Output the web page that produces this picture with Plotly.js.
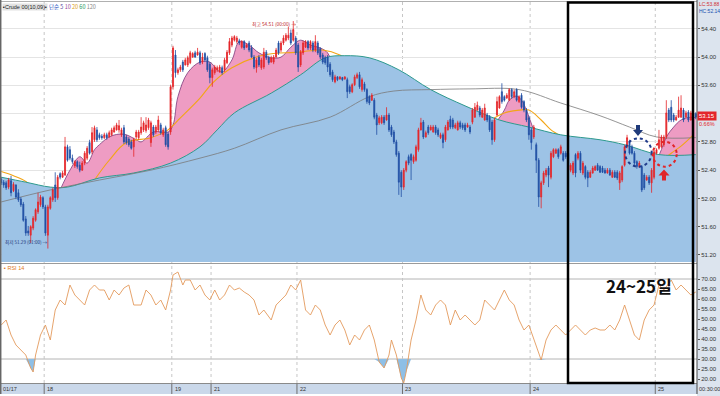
<!DOCTYPE html>
<html><head><meta charset="utf-8">
<script src="https://cdn.plot.ly/plotly-3.0.1.min.js"></script>
<style>html,body{margin:0;padding:0;background:#fff}#chart{width:720px;height:396px}</style>
</head><body><div id="chart"></div>
<script>
// ---- 30-minute candles ----
const openP = [
52.27,52.23,52.22,52.16,52.25,52.11,52.19,52.08,51.99,51.92,
51.71,51.54,51.48,51.58,51.69,51.81,51.91,52.01,51.88,51.48,
51.86,51.98,52.19,52.01,52.35,52.30,52.33,52.73,52.69,52.57,
52.46,52.52,52.47,52.40,52.50,52.57,52.79,52.66,52.83,52.97,
52.90,52.88,52.86,52.90,52.87,52.90,52.94,52.97,52.97,52.90,
53.00,52.87,52.84,52.80,52.73,52.87,52.86,52.93,52.97,52.96,
53.00,52.79,53.01,52.94,52.97,53.04,52.90,53.00,52.91,52.94,
53.58,54.03,53.78,53.82,53.93,53.89,53.89,53.92,54.00,54.06,
54.03,54.06,53.93,54.05,53.99,53.90,53.71,53.78,53.82,53.79,
53.85,53.82,53.92,54.06,54.17,54.24,54.22,54.23,54.14,54.22,
54.14,54.20,54.13,54.00,53.85,54.00,53.85,53.86,54.07,53.99,
53.93,53.93,54.00,54.20,54.10,54.20,54.24,54.27,54.34,54.24,
54.27,54.17,53.89,54.06,54.14,54.22,54.13,54.20,54.10,54.20,
54.12,54.03,53.99,54.00,53.90,53.79,53.65,53.72,53.69,53.71,
53.69,53.68,53.58,53.51,53.61,53.71,53.75,53.54,53.62,53.54,
53.44,53.39,53.39,53.18,53.07,53.07,53.15,53.11,53.18,53.01,
52.94,52.80,52.64,52.37,52.16,52.40,52.59,52.62,52.52,52.54,
52.69,52.97,53.08,52.87,53.01,52.97,52.94,53.01,52.97,52.86,
52.90,52.83,52.97,53.12,53.11,53.00,52.97,53.07,53.04,53.04,
53.01,53.01,53.08,53.15,53.25,53.28,53.15,53.11,53.18,53.15,
53.08,52.83,53.18,53.28,53.51,53.44,53.42,53.39,53.54,53.44,
53.54,53.37,53.46,53.37,53.25,53.14,52.97,52.87,52.76,52.54,
52.02,52.22,52.33,52.43,52.30,52.59,52.64,52.69,52.64,52.64,
52.64,52.64,52.40,52.36,52.62,52.57,52.64,52.36,52.45,52.37,
52.30,52.36,52.40,52.47,52.45,52.43,52.40,52.36,52.40,52.30,
52.37,52.37,52.22,52.26,52.47,52.73,52.80,52.73,52.64,52.52,
52.45,52.45,52.33,52.26,52.30,52.22,52.30,52.64,52.71,52.73,
52.76,52.87,53.25,53.29,53.18,53.11,53.15,53.15,53.25,53.15,
53.22,53.11,53.21,53.20];
const highP = [
52.30,52.26,52.25,52.29,52.32,52.23,52.20,52.13,52.02,51.95,
51.75,51.61,51.62,51.75,51.86,52.08,52.05,52.03,51.91,51.91,
52.03,52.15,52.37,52.33,52.37,52.39,52.87,52.76,52.74,52.62,
52.54,52.54,52.52,52.53,52.67,52.74,52.83,53.01,53.03,53.01,
52.93,52.91,52.93,52.93,52.96,53.00,53.03,53.07,53.11,53.00,
53.04,52.90,52.87,52.83,52.86,52.97,52.97,53.15,53.10,53.15,
53.14,53.10,53.04,53.04,53.17,53.07,53.00,53.03,52.94,53.61,
54.16,54.10,53.85,53.89,53.96,53.99,54.02,54.09,54.07,54.09,
54.13,54.09,54.06,54.07,54.02,53.93,53.85,53.89,53.88,53.89,
53.88,53.99,54.10,54.27,54.30,54.31,54.30,54.26,54.24,54.24,
54.20,54.23,54.17,54.03,53.99,54.03,53.99,54.13,54.10,54.02,
54.02,54.03,54.13,54.23,54.23,54.31,54.34,54.43,54.39,54.51,
54.30,54.20,54.10,54.23,54.24,54.24,54.24,54.23,54.31,54.23,
54.14,54.06,54.02,54.03,53.93,53.82,53.75,53.73,53.73,53.72,
53.73,53.71,53.61,53.63,53.75,53.78,53.79,53.71,53.65,53.56,
53.46,53.49,53.42,53.21,53.17,53.18,53.18,53.29,53.21,53.04,
52.97,52.83,52.67,52.40,52.43,52.54,52.62,52.64,52.62,52.76,
53.00,53.14,53.11,52.96,53.04,53.04,53.04,53.04,53.00,52.93,
52.93,53.04,53.11,53.17,53.14,53.07,53.10,53.10,53.07,53.07,
53.07,53.04,53.28,53.35,53.37,53.31,53.28,53.34,53.21,53.18,
53.11,53.14,53.44,53.46,53.63,53.46,53.49,53.56,53.56,53.54,
53.56,53.46,53.49,53.39,53.28,53.17,53.00,53.04,52.79,52.57,
52.25,52.39,52.43,52.46,52.67,52.71,52.71,52.71,52.76,52.67,
52.67,52.67,52.50,52.53,52.64,52.67,52.67,52.53,52.47,52.40,
52.40,52.46,52.47,52.50,52.47,52.46,52.43,52.43,52.43,52.40,
52.40,52.40,52.39,52.47,52.76,52.90,52.83,52.76,52.67,52.54,
52.53,52.47,52.36,52.33,52.33,52.43,52.69,52.71,52.97,52.90,
52.90,53.39,53.28,53.39,53.21,53.18,53.44,53.46,53.28,53.24,
53.25,53.24,53.24,53.22];
const lowP = [
52.19,52.15,52.12,52.13,52.03,52.09,51.99,51.95,51.88,51.67,
51.47,51.47,51.37,51.55,51.67,51.78,51.88,51.85,51.47,51.29,
51.84,51.95,51.95,51.98,52.27,52.29,52.32,52.52,52.54,52.49,
52.43,52.42,52.37,52.39,52.47,52.54,52.62,52.63,52.80,52.80,
52.83,52.83,52.84,52.83,52.86,52.88,52.93,52.96,52.93,52.87,
52.77,52.76,52.73,52.69,52.59,52.84,52.83,52.90,52.94,52.93,
52.97,52.73,52.87,52.91,52.94,52.90,52.87,52.73,52.69,52.90,
53.54,53.71,53.75,53.79,53.79,53.88,53.86,53.90,53.99,53.99,
54.02,53.89,53.90,53.93,53.79,53.63,53.58,53.75,53.79,53.78,
53.75,53.79,53.90,54.03,54.14,54.22,54.19,54.17,54.12,54.10,
54.13,54.07,53.99,53.83,53.78,53.86,53.82,53.83,53.96,53.89,
53.92,53.90,53.99,54.03,54.07,54.17,54.22,54.24,54.17,54.22,
54.03,53.79,53.86,54.03,54.13,54.10,54.10,54.07,54.07,54.03,
53.97,53.90,53.89,53.79,53.72,53.65,53.63,53.66,53.68,53.66,
53.68,53.42,53.48,53.49,53.59,53.69,53.55,53.51,53.51,53.34,
53.32,53.38,53.12,52.90,53.04,53.05,53.04,53.10,52.94,52.87,
52.77,52.59,52.05,52.02,52.12,52.37,52.47,52.26,52.49,52.52,
52.66,52.96,52.84,52.86,52.90,52.96,52.93,52.90,52.87,52.84,
52.71,52.80,52.96,52.98,52.98,52.98,52.96,52.98,52.97,52.94,
53.00,52.91,53.05,53.14,53.24,53.15,53.14,53.10,53.08,52.94,
52.76,52.80,53.17,53.27,53.34,53.37,53.41,53.38,53.41,53.42,
53.37,53.35,53.27,53.22,53.08,52.83,52.69,52.84,52.36,51.88,
51.86,52.19,52.30,52.16,52.27,52.57,52.63,52.56,52.62,52.52,
52.56,52.42,52.37,52.33,52.30,52.54,52.36,52.33,52.27,52.16,
52.29,52.35,52.39,52.39,52.36,52.36,52.35,52.35,52.32,52.29,
52.29,52.26,52.12,52.23,52.45,52.71,52.62,52.62,52.47,52.42,
52.43,52.09,52.12,52.25,52.19,52.08,52.27,52.62,52.69,52.71,
52.73,52.84,53.08,53.08,53.08,53.10,53.14,53.14,53.08,53.14,
53.08,53.10,53.12,53.12];
const closeP = [
52.22,52.19,52.15,52.26,52.08,52.20,52.02,51.98,51.91,51.69,
51.51,51.51,51.60,51.72,51.84,51.95,52.02,51.88,51.51,51.88,
52.01,52.12,52.01,52.30,52.30,52.36,52.73,52.54,52.57,52.52,
52.52,52.45,52.40,52.50,52.64,52.71,52.64,52.93,53.00,52.83,
52.86,52.86,52.90,52.86,52.93,52.97,53.00,53.04,53.03,52.97,
52.80,52.79,52.76,52.71,52.83,52.94,52.94,53.01,53.07,53.04,
53.11,53.07,52.90,53.01,53.11,52.93,52.97,52.76,52.73,53.58,
54.13,53.78,53.82,53.86,53.82,53.96,53.99,54.06,54.05,54.00,
54.07,53.92,54.00,53.96,53.82,53.71,53.82,53.86,53.85,53.86,
53.78,53.96,54.07,54.22,54.27,54.29,54.27,54.20,54.22,54.13,
54.17,54.10,54.00,53.86,53.96,53.89,53.96,54.07,53.99,53.92,
53.99,54.00,54.10,54.06,54.20,54.27,54.31,54.31,54.20,54.39,
54.06,53.86,54.07,54.20,54.22,54.13,54.22,54.10,54.22,54.06,
54.00,53.93,53.92,53.86,53.75,53.68,53.72,53.68,53.72,53.68,
53.72,53.51,53.51,53.61,53.72,53.75,53.58,53.68,53.54,53.37,
53.35,53.46,53.15,53.04,53.14,53.15,53.07,53.18,52.97,52.90,
52.80,52.62,52.23,52.16,52.40,52.52,52.50,52.54,52.59,52.73,
52.97,53.07,52.87,52.93,52.93,53.01,53.01,52.93,52.90,52.90,
52.79,53.01,53.08,53.01,53.01,53.04,53.07,53.01,53.00,52.97,
53.04,52.94,53.25,53.29,53.32,53.18,53.25,53.28,53.11,52.97,
52.83,53.11,53.37,53.44,53.37,53.39,53.46,53.54,53.44,53.51,
53.39,53.44,53.29,53.25,53.11,52.90,52.79,53.01,52.54,52.02,
52.22,52.36,52.40,52.33,52.64,52.69,52.69,52.59,52.73,52.54,
52.59,52.45,52.47,52.50,52.36,52.64,52.40,52.50,52.30,52.29,
52.37,52.43,52.45,52.40,52.37,52.37,52.36,52.40,52.33,52.37,
52.30,52.29,52.36,52.45,52.73,52.86,52.64,52.64,52.50,52.45,
52.50,52.12,52.15,52.30,52.22,52.40,52.66,52.69,52.83,52.87,
52.87,53.21,53.11,53.11,53.11,53.15,53.25,53.28,53.11,53.21,
53.11,53.21,53.15,53.15];

// ---- moving averages (sparse points; null = hidden) ----
const ma5X = [24,28,32,35,38,40,44,48,51,55,57,62,68,70,72,76,81,85,88,90,94,97,101,105,110,114,118,122,126,130,133,136,140,null,198,202,205,207,210,212,214,217,220,null,264,266,269,271,274,277,281,283];
const ma5Y = [52.12,52.40,52.59,52.50,52.69,52.76,52.87,52.91,52.90,52.83,52.80,52.94,52.94,53.04,53.44,53.78,53.93,53.93,53.82,53.79,53.96,54.22,54.17,54.06,53.99,54.00,54.14,54.24,54.17,54.13,54.06,53.82,53.70,null,53.00,53.10,53.25,53.39,53.45,53.39,53.25,52.97,52.76,null,52.40,52.47,52.69,52.87,53.01,53.11,53.15,53.14];
const ma20X = [0,5,10,14,null,36,38,44,51,61,68,73,81,86,94,107,121,131,138,142,146,null,195,201,205,211,215,220,224,227,231,null,266,273,277,282];
const ma20Y = [52.38,52.32,52.24,52.10,null,52.15,52.26,52.54,52.79,52.86,52.97,53.14,53.42,53.63,53.85,54.03,54.07,54.10,54.03,53.93,53.80,null,52.97,53.14,53.21,53.25,53.25,53.11,52.97,52.90,52.78,null,52.45,52.64,52.74,52.90];
const ma60X = [0,10,20,27,40,54,69,81,88,95,110,122,132,140,150,162,175,189,203,215,228,244,254,268,283];
const ma60Y = [52.30,52.23,52.16,52.16,52.29,52.36,52.50,52.73,52.97,53.21,53.49,53.75,53.99,54.02,53.99,53.82,53.54,53.31,53.11,53.01,52.90,52.83,52.76,52.62,52.62];
const ma120X = [0,20,40,61,81,95,114,134,150,160,175,191,211,228,244,256,267,283];
const ma120Y = [51.95,52.12,52.26,52.40,52.57,52.71,52.97,53.15,53.44,53.52,53.54,53.55,53.54,53.35,53.17,53.01,52.87,52.86];

// ---- RSI 14 ----
const rsiX = [0,2,4,6,8,10,12,13,14,16,18,20,22,24,26,28,30,32,34,36,38,40,42,44,46,48,50,52,54,57,59,61,63,65,67,69,70,72,74,75,77,79,81,83,85,87,89,91,93,95,97,99,101,103,105,107,110,112,114,116,118,120,122,124,126,128,130,132,134,136,138,140,142,144,146,148,150,152,154,156,158,159,161,163,164,165,167,169,171,173,175,177,179,181,183,185,187,189,191,193,195,197,199,201,203,205,207,209,211,213,215,218,220,222,224,226,228,230,232,234,236,238,240,242,244,246,248,250,252,254,256,258,260,262,264,266,268,270,273,275,277,279,281,283];
const rsiV = [47,49.5,42,37,34.5,32,25.5,23.5,32,42,47,39.5,54.5,59.5,57,67,62,59.5,57,64.5,67,64.5,64.5,59.5,64.5,62,65.5,67,57,57,64.5,62,57,59.5,54.5,64.5,72,73.5,67,69.5,69.5,64.5,67,62,59.5,64.5,59.5,62,67,64.5,65.5,63.5,62,59.5,52,54.5,49.5,57,59.5,62,67,64.5,69.5,54.5,52,57,54.5,47,42,47,49.5,44.5,37,42,39.5,44.5,47,39.5,28.5,25.5,32,39.5,32,20.5,18,23.5,39.5,49.5,62,54.5,52,57,59.5,57,47,54.5,49.5,52,49.5,47,49.5,59.5,57,54.5,59.5,64.5,59.5,57,49.5,44.5,47,37,29.5,39.5,44.5,47,44.5,42,44.5,47,44.5,42,44.5,45.5,44.5,44.5,47,44.5,49.5,57,49.5,42,39.5,49.5,54.5,57,67,64.5,69.5,64.5,67,64.5,62,63.5];

// ---- axis labels ----
const priceTicks = [51.2,51.6,52.0,52.4,52.8,53.2,53.6,54.0,54.4];
const priceTickText = ["51.20","51.60","52.00","52.40","52.80","","53.60","54.00","54.40"]; // 53.20 hidden under price box
const rsiTicks = [20,25,30,35,40,45,50,55,60,65,70];
const dayStart = [0,18,70,86,121,164,216,267];
const dayLabel = ["01/17","18","19","21","22","23","24","25"];
const lastPrice = "53.15", lastChange = "0.66%";
const highLabel = "최고 54.51 (00:00) →", lowLabel = "최저 51.29 (01:00) →";

const bars = closeP.map((_, i) => i);
const N = bars.length;
const xr = [-0.5, N - 0.5];

// pixel helpers for decorations (plot area: x 0..697, y 2..383)
const PW = 697, PH = 381, BOT = 383;
const px = x => x / PW;
const py = y => (BOT - y) / PH;
const path = pts => 'M ' + pts.map(p => px(p[0]).toFixed(5) + ',' + py(p[1]).toFixed(5)).join(' L ') + ' Z';

const KR = 'Noto Sans CJK KR';
const SM = 'Liberation Sans';

const traces = [
  {x: ma5X, y: ma5Y, type:'scatter', mode:'lines', line:{color:'#7b3a7c', width:0.8, shape:'spline'}, fill:'tozeroy', fillcolor:'#EE9CC3', connectgaps:false, xaxis:'x', yaxis:'y', hoverinfo:'skip'},
  {x: ma20X, y: ma20Y, type:'scatter', mode:'lines', line:{color:'#F2A516', width:1.1, shape:'spline'}, connectgaps:false, xaxis:'x', yaxis:'y', hoverinfo:'skip'},
  {x: ma60X, y: ma60Y, type:'scatter', mode:'lines', line:{color:'#2E9A8E', width:1, shape:'spline'}, fill:'tozeroy', fillcolor:'#9DC3E6', xaxis:'x', yaxis:'y', hoverinfo:'skip'},
  {x: ma120X, y: ma120Y, type:'scatter', mode:'lines', line:{color:'#7a7a7a', width:0.8, shape:'spline'}, xaxis:'x', yaxis:'y', hoverinfo:'skip'},
  {x: bars, open: openP, high: highP, low: lowP, close: closeP, type:'candlestick', xaxis:'x', yaxis:'y3',
   whiskerwidth:0,
   increasing:{line:{color:'#E5262A', width:0.8}, fillcolor:'#E5262A'},
   decreasing:{line:{color:'#1F4EA3', width:0.8}, fillcolor:'#1F4EA3'}, hoverinfo:'skip'},
  // RSI oversold fill (below 30)
  {x: xr, y:[30,30], type:'scatter', mode:'lines', line:{width:0, color:'rgba(0,0,0,0)'}, xaxis:'x2', yaxis:'y2', hoverinfo:'skip'},
  {x: rsiX, y: rsiV.map(v => Math.min(v, 30)), type:'scatter', mode:'lines', line:{width:0, color:'rgba(0,0,0,0)'}, fill:'tonexty', fillcolor:'#8EBFE6', xaxis:'x2', yaxis:'y2', hoverinfo:'skip'},
  {x: rsiX, y: rsiV, type:'scatter', mode:'lines', line:{color:'#E39A5C', width:0.9}, xaxis:'x2', yaxis:'y2', hoverinfo:'skip'}
];

const shapes = [
  {type:'rect', xref:'paper', yref:'paper', x0:1, x1:720/PW, y0:py(396), y1:py(0), fillcolor:'#DCE4EE', line:{width:0}, layer:'below'},
  {type:'rect', xref:'paper', yref:'paper', x0:0, x1:1, y0:py(394), y1:py(383.5), fillcolor:'#CAD8EA', line:{width:0}, layer:'below'},
  {type:'line', xref:'paper', yref:'paper', x0:0, x1:1, y0:py(383.5), y1:py(383.5), line:{color:'#8a8a8a', width:1}},
  {type:'line', xref:'paper', yref:'paper', x0:0, x1:1, y0:py(263.5), y1:py(263.5), line:{color:'#9a9a9a', width:1}},
  {type:'line', xref:'paper', yref:'paper', x0:0, x1:1, y0:py(1.5), y1:py(1.5), line:{color:'#b0b0b0', width:1}},
  {type:'line', xref:'paper', yref:'paper', x0:px(0.7), x1:px(0.7), y0:py(394), y1:py(0), line:{color:'#666', width:1.5}},
  {type:'line', xref:'paper', yref:'paper', x0:1, x1:1, y0:py(394), y1:py(0), line:{color:'#444', width:1}},
  {type:'line', xref:'paper', yref:'y2', x0:0, x1:1, y0:30, y1:30, line:{color:'#b4b4b4', width:1}, layer:'below'},
  {type:'line', xref:'paper', yref:'y2', x0:0, x1:1, y0:70, y1:70, line:{color:'#b4b4b4', width:1}, layer:'below'}
];
dayStart.forEach((s, k) => {
  if (k > 0) {
    shapes.push({type:'line', xref:'x', yref:'paper', x0:s-0.5, x1:s-0.5, y0:0, y1:1, line:{color:'#c6c6c6', width:1, dash:'dot'}, layer:'below'});
  }
  shapes.push({type:'line', xref:'x', yref:'paper', x0:s-0.5, x1:s-0.5, y0:py(394), y1:py(383.5), line:{color:'#6f6f6f', width:1}});
});
// 24~25 box, circles, arrows
shapes.push({type:'rect', xref:'paper', yref:'paper', x0:px(568), x1:px(693), y0:py(383), y1:py(2.5), line:{color:'#000', width:2.5}, fillcolor:'rgba(0,0,0,0)', layer:'above'});
shapes.push({type:'circle', xref:'paper', yref:'paper', x0:px(625), x1:px(651.7), y0:py(166.7), y1:py(138.3), line:{color:'#1F3A8A', width:2, dash:'dot'}});
shapes.push({type:'circle', xref:'paper', yref:'paper', x0:px(652.7), x1:px(676.7), y0:py(166.7), y1:py(141.7), line:{color:'#E0262A', width:2, dash:'dot'}});
shapes.push({type:'path', xref:'paper', yref:'paper', path: path([[636,125],[640,125],[640,130],[643,130],[638,136],[633,130],[636,130]]), fillcolor:'#1F3A7A', line:{width:0}});
shapes.push({type:'path', xref:'paper', yref:'paper', path: path([[664,169.5],[669.5,175.5],[666,175.5],[666,180.5],[662,180.5],[662,175.5],[658.5,175.5]]), fillcolor:'#E0262A', line:{width:0}});

const annotations = [
  {xref:'paper', yref:'paper', x:px(2), y:py(7), xanchor:'left', yanchor:'middle', showarrow:false,
   text:'▪Crude 00(10,09)▪', font:{family:SM, size:5.5, color:'#222'}, bgcolor:'#E2E2E2', borderpad:0},
  {xref:'paper', yref:'paper', x:px(47), y:py(7), xanchor:'left', yanchor:'middle', showarrow:false,
   text:'<span style="color:#2a55c0">단순</span> <span style="color:#5a3fa0">5</span> <span style="color:#9a4a9a">10</span> <span style="color:#E0A020">20</span> <span style="color:#2E9A5E">60</span> <span style="color:#888">120</span>',
   font:{family:KR, size:5.5, color:'#333'}},
  {xref:'paper', yref:'paper', x:px(2), y:py(267.5), xanchor:'left', yanchor:'middle', showarrow:false,
   text:'▪ RSI 14', font:{family:SM, size:5.5, color:'#E07A20'}},
  {xref:'paper', yref:'paper', x:px(298), y:py(24), xanchor:'right', yanchor:'middle', showarrow:false,
   text: highLabel, font:{family:KR, size:4.8, color:'#C0282A'}},
  {xref:'paper', yref:'paper', x:px(3), y:py(242), xanchor:'left', yanchor:'middle', showarrow:false,
   text: lowLabel, font:{family:KR, size:4.6, color:'#1F3A7A'}},
  {xref:'paper', yref:'paper', x:px(639), y:py(285), xanchor:'center', yanchor:'middle', showarrow:false,
   text:'<b>24~25일</b>', font:{family:KR, size:17, color:'#111'}},
  {xref:'paper', yref:'paper', x:1, y:py(116.5), xanchor:'left', yanchor:'middle', showarrow:false,
   text:lastPrice, font:{family:SM, size:6, color:'#fff'}, bgcolor:'#E3262B', borderpad:1},
  {xref:'paper', yref:'paper', x:1, y:py(124), xanchor:'left', yanchor:'middle', showarrow:false,
   text:lastChange, font:{family:SM, size:5.5, color:'#E3262B'}},
  {xref:'paper', yref:'paper', x:1, y:py(4.5), xanchor:'left', yanchor:'middle', showarrow:false,
   text:'LC:53.88', font:{family:SM, size:5, color:'#d03030'}},
  {xref:'paper', yref:'paper', x:1, y:py(10.5), xanchor:'left', yanchor:'middle', showarrow:false,
   text:'HC:52.14', font:{family:SM, size:5, color:'#2050b0'}},
  {xref:'paper', yref:'paper', x:1, y:py(389), xanchor:'left', yanchor:'middle', showarrow:false,
   text:'00:30:00', font:{family:SM, size:5.5, color:'#333'}}
];
dayStart.forEach((s, k) => {
  annotations.push({xref:'x', yref:'paper', x:s-0.5, y:py(389), xanchor:'left', yanchor:'middle', xshift:1, showarrow:false,
    text: dayLabel[k], font:{family:SM, size:5.5, color:'#333'}});
});

const axFont = {family:SM, size:6, color:'#333'};
const layout = {
  width:720, height:396, margin:{l:0, r:23, t:2, b:13},
  paper_bgcolor:'#fff', plot_bgcolor:'#fff', showlegend:false, boxgap:0.4,
  xaxis:{domain:[0,1], range:xr, anchor:'y', showticklabels:false, showgrid:false, zeroline:false, showline:false, rangeslider:{visible:false}, fixedrange:true},
  yaxis:{domain:[0.3176,1], range:[51.10,54.78], side:'right', anchor:'x', tickvals:priceTicks, ticktext:priceTickText, tickfont:axFont,
         ticks:'outside', ticklen:2, tickcolor:'#555', showgrid:true, gridcolor:'#e4e4e4', gridwidth:1, zeroline:false, fixedrange:true},
  yaxis3:{overlaying:'y', anchor:'x', side:'right', range:[51.10,54.78], visible:false, showgrid:false, fixedrange:true},
  xaxis2:{domain:[0,1], range:xr, anchor:'y2', showticklabels:false, showgrid:false, zeroline:false, fixedrange:true},
  yaxis2:{domain:[0,0.3097], range:[18,77], side:'right', anchor:'x2', tickvals:rsiTicks, tickformat:'.2f', tickfont:axFont,
          ticks:'outside', ticklen:2, tickcolor:'#555', showgrid:false, zeroline:false, fixedrange:true},
  shapes: shapes, annotations: annotations
};

Plotly.newPlot('chart', traces, layout, {staticPlot:true, displayModeBar:false});
</script>
</body></html>
